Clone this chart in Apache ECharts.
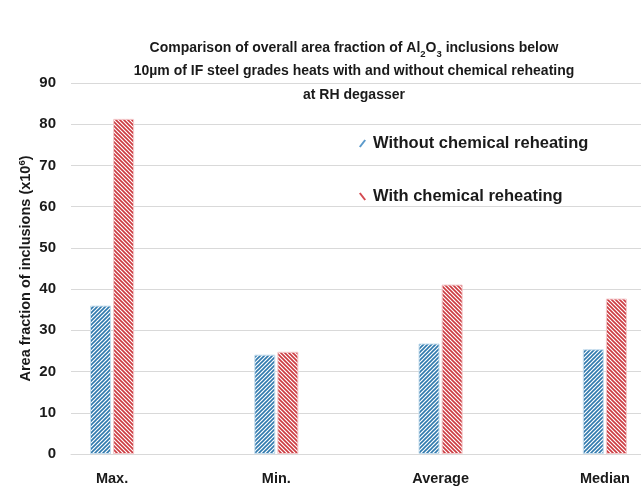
<!DOCTYPE html>
<html>
<head>
<meta charset="utf-8">
<script src="https://cdn.jsdelivr.net/npm/echarts@6/dist/echarts.min.js"></script>
<style>
  html, body { margin: 0; padding: 0; background: #ffffff; }
  #chart { width: 641px; height: 487px; }
</style>
</head>
<body>
<div id="chart"></div>
<script>
// Statistic groups on the x axis
const categories = ['Max.', 'Min.', 'Average', 'Median'];
// Area fraction of Al2O3 inclusions (x10^6)
const withoutReheating = [36.0, 24.1, 26.8, 25.4];
const withReheating = [81.3, 24.8, 41.1, 37.7];
const seriesNames = ['Without chemical reheating', 'With chemical reheating'];
const yTicks = [0, 10, 20, 30, 40, 50, 60, 70, 80, 90];

const FONT = '"Liberation Sans", Arial, sans-serif';
const TEXT = '#1a1a1a';

// Small tile of diagonal hatching used as the bar fill
function hatch(color, forward) {
  const s = 4;
  const c = document.createElement('canvas');
  c.width = s; c.height = s;
  const ctx = c.getContext('2d');
  ctx.fillStyle = '#ffffff';
  ctx.fillRect(0, 0, s, s);
  ctx.strokeStyle = color;
  ctx.lineWidth = 1.6;
  ctx.beginPath();
  if (forward) {          // "/" stripes
    ctx.moveTo(-1, 1); ctx.lineTo(1, -1);
    ctx.moveTo(0, s); ctx.lineTo(s, 0);
    ctx.moveTo(s - 1, s + 1); ctx.lineTo(s + 1, s - 1);
  } else {                // "\" stripes
    ctx.moveTo(-1, s - 1); ctx.lineTo(1, s + 1);
    ctx.moveTo(0, 0); ctx.lineTo(s, s);
    ctx.moveTo(s - 1, -1); ctx.lineTo(s + 1, 1);
  }
  ctx.stroke();
  return c;
}

const blue = '#3079ad';
const red = '#cc3a40';

const toPoints = arr => arr.map((v, i) => [i, v]);

const chart = echarts.init(document.getElementById('chart'));
chart.setOption({
  animation: false,
  backgroundColor: '#ffffff',
  title: {
    text: 'Comparison of overall area fraction of Al{sub|2}O{sub|3} inclusions below\n10µm of IF steel grades heats with and without chemical reheating\nat RH degasser',
    left: 349,
    top: 31,
    textAlign: 'center',
    textStyle: {
      fontFamily: FONT, fontSize: 14, fontWeight: 'bold', color: TEXT, lineHeight: 23.5,
      rich: {
        sub: { fontFamily: FONT, fontSize: 9.5, fontWeight: 'bold', color: TEXT, lineHeight: 15, verticalAlign: 'bottom' }
      }
    }
  },
  legend: {
    orient: 'vertical',
    left: 354,
    top: 130,
    itemGap: 36,
    itemWidth: 7,
    itemHeight: 8,
    selectedMode: false,
    textStyle: { fontFamily: FONT, fontSize: 16.5, fontWeight: 'bold', color: TEXT, padding: [0, 0, 0, 2] },
    data: [
      { name: seriesNames[0], icon: 'path://M0,7 L1.6,8 L7,1 L5.4,0 Z', itemStyle: { color: '#5b9acb', borderWidth: 0 } },
      { name: seriesNames[1], icon: 'path://M0,1 L1.6,0 L7,7 L5.4,8 Z', itemStyle: { color: '#d44950', borderWidth: 0 } }
    ]
  },
  grid: { left: 71, right: 0, top: 83, bottom: 33 },
  xAxis: {
    type: 'value',
    min: -0.25,
    max: 3.22,
    splitLine: { show: false },
    axisTick: { show: false },
    axisLine: { show: true, onZero: false, lineStyle: { color: '#d9d9d9', width: 1 } },
    axisLabel: {
      customValues: categories.map((_, i) => i),
      formatter: v => categories[Math.round(v)] || '',
      margin: 17,
      fontFamily: FONT, fontSize: 14.5, fontWeight: 'bold', color: TEXT
    }
  },
  yAxis: {
    type: 'value',
    min: yTicks[0],
    max: yTicks[yTicks.length - 1],
    interval: yTicks[1] - yTicks[0],
    name: 'Area fraction of inclusions (x10{sup|6})',
    nameLocation: 'middle',
    nameGap: 36,
    nameMoveOverlap: false,
    nameTextStyle: {
      fontFamily: FONT, fontSize: 14.5, fontWeight: 'bold', color: TEXT, lineHeight: 18,
      rich: {
        sup: { fontFamily: FONT, fontSize: 9.5, fontWeight: 'bold', color: TEXT, lineHeight: 12, verticalAlign: 'top' }
      }
    },
    axisLine: { show: false },
    axisTick: { show: false },
    splitLine: { lineStyle: { color: '#d9d9d9', width: 1 } },
    axisLabel: { margin: 15, fontFamily: FONT, fontSize: 15, fontWeight: 'bold', color: TEXT }
  },
  series: [
    {
      name: seriesNames[0],
      type: 'bar',
      barWidth: 21,
      barGap: '10%',
      data: toPoints(withoutReheating),
      itemStyle: { color: { image: hatch(blue, true), repeat: 'repeat' }, borderColor: '#c6deee', borderWidth: 1 }
    },
    {
      name: seriesNames[1],
      type: 'bar',
      barWidth: 21,
      barGap: '10%',
      data: toPoints(withReheating),
      itemStyle: { color: { image: hatch(red, false), repeat: 'repeat' }, borderColor: '#f4c9cb', borderWidth: 1 }
    }
  ]
});
</script>
</body>
</html>
